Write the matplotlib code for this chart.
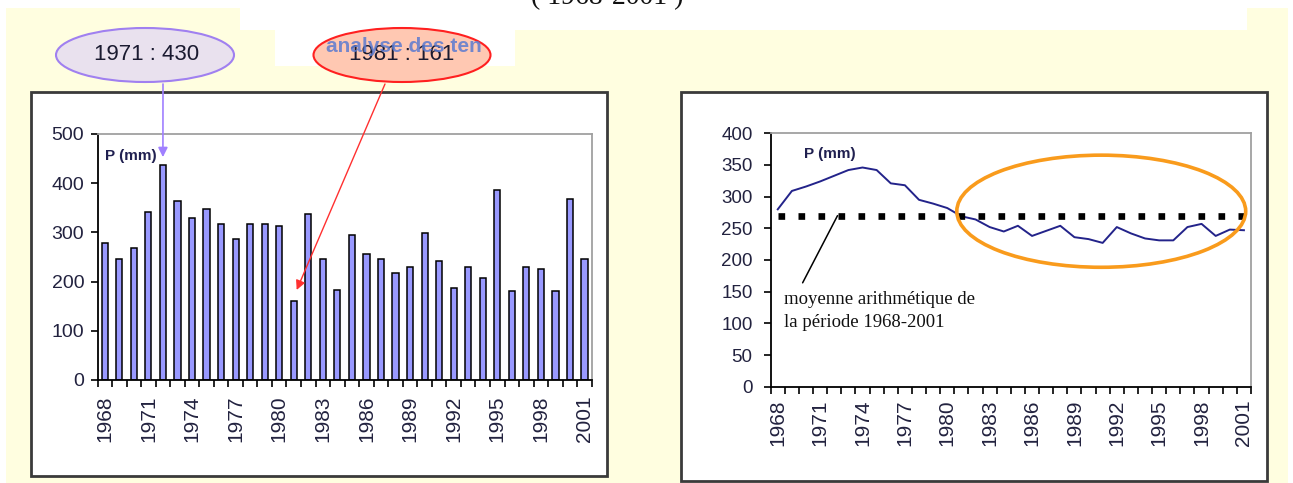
import numpy as np
import matplotlib
matplotlib.use("Agg")
import matplotlib.pyplot as plt
from matplotlib import font_manager
from matplotlib.patches import Rectangle, Ellipse

# data
years = list(range(1968, 2002))
precip = [279, 245, 268, 341, 436, 364, 329, 348, 317, 287,
          317, 317, 314, 161, 337, 245, 183, 295, 256, 245,
          218, 230, 298, 241, 188, 230, 207, 386, 180, 230,
          226, 180, 367, 245]
smooth = [280, 309, 316, 324, 333, 342, 346, 342, 321, 318,
          295, 289, 282, 269, 264, 252, 245, 254, 238, 246,
          254, 236, 233, 227, 252, 242, 234, 231, 231, 252,
          257, 238, 248, 247]
mean_p = 270
label_years = [1968, 1971, 1974, 1977, 1980, 1983, 1986, 1989, 1992, 1995, 1998, 2001]

names = {f.name for f in font_manager.fontManager.ttflist}
narrow = 'Liberation Sans Narrow' in names
SANS = ['Liberation Sans Narrow', 'Liberation Sans', 'DejaVu Sans'] if narrow else ['Liberation Sans', 'DejaVu Sans']
ysz = 16 if narrow else 14
plt.rcParams['font.family'] = SANS

W, H = 1293, 483
fig = plt.figure(figsize=(W / 100, H / 100), dpi=100)
fig.patch.set_facecolor('white')

def fx(px):
    return px / W

def fy(py):
    return 1 - py / H

def frect(x0, y0, x1, y1, **kw):
    r = Rectangle((fx(x0), fy(y1)), fx(x1) - fx(x0), fy(y0) - fy(y1),
                  transform=fig.transFigure, **kw)
    fig.patches.append(r)
    return r

cream = '#FFFEE0'
frect(6, 8, 1288, 483, facecolor=cream, edgecolor='none', zorder=-5)
frect(240, 0, 1247, 30, facecolor='white', edgecolor='none', zorder=-4)
frect(275, 0, 515, 66, facecolor='white', edgecolor='none', zorder=-4)

# chart panels
frect(31, 92, 607, 476, facecolor='white', edgecolor='#3a3a3a', lw=2, zorder=-3)
frect(681, 92, 1267, 481, facecolor='white', edgecolor='#3a3a3a', lw=2, zorder=-3)

fig.text(fx(607), fy(4), '( 1968-2001 )', family=['Liberation Serif'], fontsize=20,
         ha='center', va='baseline', color='#111111')

tick_col = '#22223f'
idx = np.arange(len(years))
lab_idx = [years.index(y) for y in label_years]

def style_axes(ax, ymax, ystep, pady, padx, ylab):
    ax.set_xlim(-0.5, len(years) - 0.5)
    ax.set_ylim(0, ymax)
    ax.set_yticks(np.arange(0, ymax + 1, ystep))
    for s in ['top', 'right']:
        ax.spines[s].set_color('#a0a0a0')
        ax.spines[s].set_linewidth(1.3)
    for s in ['left', 'bottom']:
        ax.spines[s].set_color('black')
        ax.spines[s].set_linewidth(1.3)
    ax.set_xticks(lab_idx)
    ax.set_xticklabels([str(y) for y in label_years], rotation=90,
                       family=['Liberation Sans', 'DejaVu Sans'], fontsize=15)
    ax.set_xticks(np.arange(-0.5, len(years), 1), minor=True)
    ax.tick_params(axis='x', which='major', length=0, pad=padx, colors=tick_col)
    ax.tick_params(axis='x', which='minor', length=5, width=1.2, direction='out', color='black')
    ax.tick_params(axis='y', length=5, width=1.2, direction='out', pad=pady,
                   labelsize=ylab, labelcolor=tick_col, color='black')

# left bar chart
ax1 = fig.add_axes([fx(97.5), fy(380), fx(591.8) - fx(97.5), fy(134) - fy(380)])
ax1.bar(idx, precip, width=0.42, color='#9999FF', edgecolor='black', linewidth=1.1)
style_axes(ax1, 500, 100, 4.5, 11, ysz)
ax1.text(0.0, 455, 'P (mm)', fontsize=11, fontweight='bold', color='#202050',
         ha='left', va='center', family=['Liberation Sans', 'DejaVu Sans'])

# right line chart
ax2 = fig.add_axes([fx(770.7), fy(386.7), fx(1251) - fx(770.7), fy(133.3) - fy(386.7)])
ax2.plot(idx, smooth, color='#23238a', lw=1.4, solid_joinstyle='round')
ax2.plot([0, len(years) - 1], [mean_p, mean_p], color='black', lw=4.8,
         ls=(0, (1, 2.0)), dash_capstyle='butt')
style_axes(ax2, 400, 50, 8, 9, ysz - 0.5)
ax2.text(0.07, 0.92, 'P (mm)', transform=ax2.transAxes, fontsize=11, fontweight='bold',
         color='#202050', ha='left', va='center', family=['Liberation Sans', 'DejaVu Sans'])
ax2.add_patch(Ellipse((22.9, 277), 20.45, 177, fill=False, edgecolor='#F99B1C',
                      lw=2.6, clip_on=False, zorder=5))
ax2.annotate('', xy=(4.23, mean_p), xytext=(1.76, 164),
             arrowprops=dict(arrowstyle='-', color='black', lw=1.1, shrinkA=0, shrinkB=0))
ax2.text(0.44, 119, 'moyenne arithmétique de\nla période 1968-2001',
         family=['Liberation Serif', 'DejaVu Serif'], fontsize=13.5, color='#111111',
         ha='left', va='center', linespacing=1.45)

# callouts on the bar chart
fig.patches.append(Ellipse((fx(145), fy(55)), fx(178), 54 / H, transform=fig.transFigure,
                           facecolor='#E9E1EE', edgecolor='#A080F0', lw=1.5, zorder=3))
fig.text(fx(147), fy(55), '1971 : 430', fontsize=16, ha='center', va='center',
         color='#1a1a30', zorder=4)
fig.patches.append(Ellipse((fx(402), fy(55)), fx(177), 54 / H, transform=fig.transFigure,
                           facecolor='#FFC8B2', edgecolor='#FF2020', lw=1.5, zorder=3))
fig.text(fx(402), fy(55), '1981 : 161', fontsize=16, ha='center', va='center',
         color='#1a1a30', zorder=4)
fig.text(fx(404), fy(47), 'analyse des ten', fontsize=15, fontweight='bold', ha='center',
         va='center', color='#5C7BD0', alpha=0.85, zorder=5)

ax1.annotate('', xy=(4, 453), xytext=(fx(163), fy(84)), textcoords='figure fraction',
             arrowprops=dict(arrowstyle='-|>', color='#A080FF', lw=1.2, mutation_scale=14,
                             shrinkA=0, shrinkB=0), annotation_clip=False)
ax1.annotate('', xy=(13.2, 183), xytext=(fx(385), fy(84)), textcoords='figure fraction',
             arrowprops=dict(arrowstyle='-|>', color='#FF3030', lw=1.0, mutation_scale=14,
                             shrinkA=0, shrinkB=0), annotation_clip=False)

fig.savefig('out.png', dpi=100, facecolor=fig.get_facecolor())
